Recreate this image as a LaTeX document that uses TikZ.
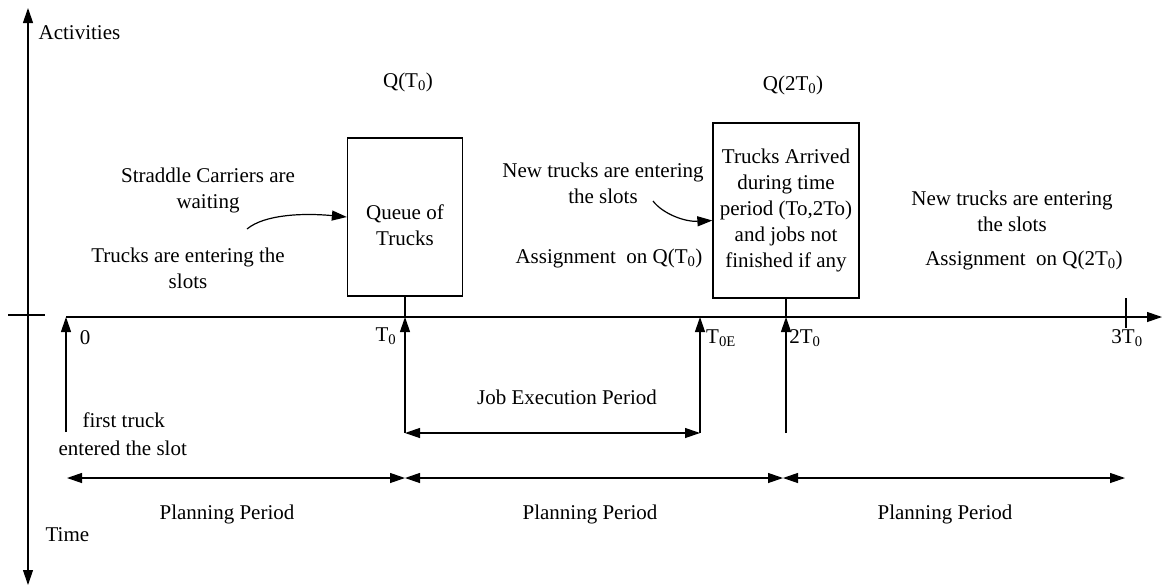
\documentclass[tikz,border=0pt]{standalone}
\usepackage{fontspec}
\setmainfont{Liberation Serif}
\usetikzlibrary{arrows.meta, positioning}
\tikzset{
  every picture/.style={line width=1.2pt},
  lbl/.style={font=\fontsize{21}{26}\selectfont, align=center, inner sep=0pt},
  qbox/.style={draw, lbl, line width=1.3pt},
  arrow/.style={-{Triangle[length=15pt, width=10pt]}},
  twoway/.style={{Triangle[length=15pt, width=10pt]}-{Triangle[length=15pt, width=10pt]}},
}
\newcommand{\Tz}{T\textsubscript{0}}

\begin{document}
\begin{tikzpicture}[x=1pt, y=-1pt]
  \useasboundingbox (0,0) rectangle (1164,587);
  % axes
  \coordinate (ytop) at (28,8);
  \coordinate (ybot) at (28,585);
  \coordinate (xl) at (8,315);
  \coordinate (xr) at (45,315);
  \coordinate (o) at (66,317);
  \coordinate (xend) at (1162,317);
  \draw[twoway] (ytop) -- (ybot);
  \draw (xl) -- (xr);
  \draw[arrow] (o) -- (xend);
  \node[lbl, anchor=west] (act) at (38,33) {Activities};
  \node[lbl, anchor=west] (time) at (45,535) {Time};

  % instants on the time line
  \foreach \n/\x in {t1/405, te/700, t2/786} {
    \coordinate (\n) at (\x,317);
    \coordinate (\n-b) at (\x,433);
  }
  \coordinate (f0) at (66,432);
  \coordinate (t3) at (1126,298);
  \coordinate (t3-b) at (1126,328);
  \draw[arrow] (f0) -- (o);
  \draw[arrow] (t1-b) -- (t1);
  \draw[arrow] (te-b) -- (te);
  \draw[arrow] (t2-b) -- (t2);
  \draw (t3) -- (t3-b);
  \draw[twoway] (t1-b) -- (te-b);

  \node[lbl] (l0) at (85,338) {0};
  \node[lbl] (l1) at (386,336) {\Tz};
  \node[lbl] (le) at (721,338) {T\textsubscript{0E}};
  \node[lbl] (l2) at (805,338) {2\Tz};
  \node[lbl] (l3) at (1127,338) {3\Tz};
  \node[lbl, anchor=west] (ft1) at (82,420) {first truck};
  \node[lbl, anchor=west] (ft2) at (58,448) {entered the slot};
  \node[lbl] (job) at (567,397) {Job Execution Period};

  % queues
  \node[qbox, minimum width=115pt, minimum height=158pt, text height=58pt] (q1) at (405,217) {Queue of\\Trucks};
  \node[qbox, minimum width=146pt, minimum height=175pt] (q2) at (786,210.5)
    {Trucks Arrived\\during time\\period (To,2To)\\and jobs not\\finished if any};
  \node[lbl] (qt1) at (408,82) {Q(\Tz)};
  \node[lbl] (qt2) at (793,85) {Q(2\Tz)};
  \draw (q1.south) -- (t1);
  \draw (q2.south) -- (t2);

  % activities
  \node[lbl] (sc) at (208,190) {Straddle Carriers are\\waiting};
  \node[lbl] (tr) at (188,268) {Trucks are entering the\\slots};
  \node[lbl] (nt1) at (603,183) {New trucks are entering\\the slots};
  \node[lbl] (as1) at (609,258) {Assignment\ \ on Q(\Tz)};
  \node[lbl] (nt2) at (1012,211) {New trucks are entering\\the slots};
  \node[lbl] (as2) at (1024,260) {Assignment\ \ on Q(2\Tz)};
  \coordinate (c1) at (247,229);
  \coordinate (c2) at (653,201);
  \draw[arrow] (c1) .. controls (265,214) and (305,213) .. (q1.west);
  \draw[arrow] (c2) .. controls (663,214) and (685,222) .. ([yshift=-10pt]q2.west);

  % planning periods
  \coordinate (p0) at (67,478);
  \coordinate (p1) at (405,478);
  \coordinate (p2) at (783,478);
  \coordinate (p3) at (1125,478);
  \foreach \a/\b/\x in {p0/p1/227, p1/p2/590, p2/p3/945} {
    \draw[twoway] (\a) -- (\b);
    \node[lbl] (lab\a) at (\x,514) {Planning Period};
  }
\end{tikzpicture}
\end{document}
